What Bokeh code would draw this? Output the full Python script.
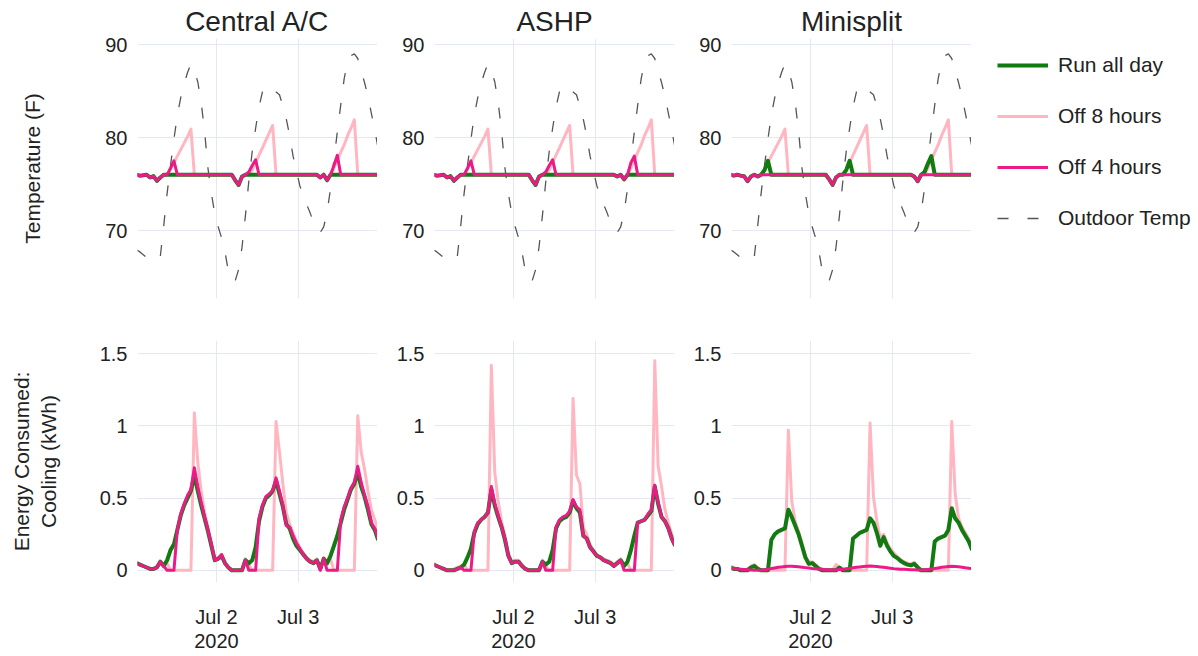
from datetime import datetime, timedelta
from bokeh.plotting import figure
from bokeh.models import (Range1d, FixedTicker, NumeralTickFormatter,
                          DatetimeTickFormatter, Legend, LegendItem)
from bokeh.layouts import column, row
from bokeh.embed import file_html
from bokeh.resources import INLINE

# ---------------- data (hourly, Jul 1 00:30 ... Jul 3 23:30) ----------------
times = [datetime(2020, 7, 1, 0, 30) + timedelta(hours=k) for k in range(72)]

systems = ["Central A/C", "ASHP", "Minisplit"]
series_names = ["Run all day", "Off 8 hours", "Off 4 hours", "Outdoor Temp"]
temp_ticks = [70, 80, 90]
kwh_ticks = [0, 0.5, 1, 1.5]
date_ticks = [datetime(2020, 7, 2), datetime(2020, 7, 3)]

outdoor_temp = [67.9, 67.7, 67.4, 67.1, 66.9, 66.8, 66.7, 67.2, 70.5, 74.0,
                77.0, 79.8, 82.4, 84.3, 85.8, 87.0, 87.9, 87.2, 86.0, 83.8,
                80.7, 76.7, 74.0, 71.8, 70.4, 69.2, 67.7, 65.6, 64.6, 64.6,
                65.8, 68.2, 71.6, 75.3, 78.5, 81.0, 83.3, 84.9, 85.6, 85.5,
                85.2, 84.9, 84.6, 83.4, 82.0, 80.2, 78.0, 76.4, 74.8, 73.8,
                72.8, 71.9, 70.9, 70.2, 69.8, 70.4, 72.0, 74.5, 77.6, 80.6,
                83.5, 86.3, 88.1, 88.8, 89.0, 88.5, 87.2, 85.9, 84.4, 82.6,
                80.8, 78.8]

# Central A/C indoor temperature
ac_temp_run = [76.0, 75.9, 75.95, 76.0, 75.7, 75.85, 75.35, 75.7, 76.0, 76.0,
               76.0, 76.0, 76.0, 76.0, 76.0, 76.0, 76.0, 76.0, 76.0, 76.0,
               76.0, 76.0, 76.0, 76.0, 76.0, 76.0, 76.0, 76.0, 76.0, 75.4,
               74.9, 75.8, 76.0, 76.0, 76.0, 76.0, 76.0, 76.0, 76.0, 76.0,
               76.0, 76.0, 76.0, 76.0, 76.0, 76.0, 76.0, 76.0, 76.0, 76.0,
               76.0, 76.0, 76.0, 76.0, 75.7, 76.0, 75.4, 76.0, 76.0, 76.0,
               76.0, 76.0, 76.0, 76.0, 76.0, 76.0, 76.0, 76.0, 76.0, 76.0,
               76.0, 76.0]
ac_temp_off8 = [76.0, 75.9, 75.95, 76.0, 75.7, 75.85, 75.35, 75.7, 76.0, 76.0,
                76.6, 77.3, 78.0, 78.7, 79.4, 80.1, 80.9, 76.0, 76.0, 76.0,
                76.0, 76.0, 76.0, 76.0, 76.0, 76.0, 76.0, 76.0, 76.0, 75.4,
                74.9, 75.8, 76.0, 76.0, 76.5, 77.3, 78.1, 78.9, 79.7, 80.5,
                81.3, 76.0, 76.0, 76.0, 76.0, 76.0, 76.0, 76.0, 76.0, 76.0,
                76.0, 76.0, 76.0, 76.0, 75.7, 76.0, 75.4, 76.0, 76.7, 77.6,
                78.4, 79.2, 80.2, 81.0, 81.9, 76.0, 76.0, 76.0, 76.0, 76.0,
                76.0, 76.0]
ac_temp_off4 = [76.0, 75.9, 75.95, 76.0, 75.7, 75.85, 75.35, 75.7, 76.0, 76.0,
                76.7, 77.5, 76.0, 76.0, 76.0, 76.0, 76.0, 76.0, 76.0, 76.0,
                76.0, 76.0, 76.0, 76.0, 76.0, 76.0, 76.0, 76.0, 76.0, 75.4,
                74.9, 75.8, 76.0, 76.3, 77.0, 77.6, 76.0, 76.0, 76.0, 76.0,
                76.0, 76.0, 76.0, 76.0, 76.0, 76.0, 76.0, 76.0, 76.0, 76.0,
                76.0, 76.0, 76.0, 76.0, 75.7, 76.0, 75.4, 76.0, 77.0, 78.1,
                76.0, 76.0, 76.0, 76.0, 76.0, 76.0, 76.0, 76.0, 76.0, 76.0,
                76.0, 76.0]

# ASHP indoor temperature
ashp_temp_run = [76.0, 75.9, 75.95, 76.0, 75.7, 75.85, 75.35, 75.7, 76.0, 76.0,
                 76.0, 76.0, 76.0, 76.0, 76.0, 76.0, 76.0, 76.0, 76.0, 76.0,
                 76.0, 76.0, 76.0, 76.0, 76.0, 76.0, 76.0, 76.0, 76.0, 75.4,
                 74.9, 75.8, 76.0, 76.0, 76.0, 76.0, 76.0, 76.0, 76.0, 76.0,
                 76.0, 76.0, 76.0, 76.0, 76.0, 76.0, 76.0, 76.0, 76.0, 76.0,
                 76.0, 76.0, 76.0, 76.0, 75.8, 76.0, 75.5, 76.0, 76.0, 76.0,
                 76.0, 76.0, 76.0, 76.0, 76.0, 76.0, 76.0, 76.0, 76.0, 76.0,
                 76.0, 76.0]
ashp_temp_off8 = [76.0, 75.9, 75.95, 76.0, 75.7, 75.85, 75.35, 75.7, 76.0, 76.0,
                  76.6, 77.3, 78.0, 78.7, 79.4, 80.1, 80.9, 76.0, 76.0, 76.0,
                  76.0, 76.0, 76.0, 76.0, 76.0, 76.0, 76.0, 76.0, 76.0, 75.4,
                  74.9, 75.8, 76.0, 76.0, 76.5, 77.3, 78.1, 78.9, 79.7, 80.5,
                  81.3, 76.0, 76.0, 76.0, 76.0, 76.0, 76.0, 76.0, 76.0, 76.0,
                  76.0, 76.0, 76.0, 76.0, 75.8, 76.0, 75.5, 76.0, 76.7, 77.6,
                  78.4, 79.2, 80.2, 81.0, 81.9, 76.0, 76.0, 76.0, 76.0, 76.0,
                  76.0, 76.0]
ashp_temp_off4 = [76.0, 75.9, 75.95, 76.0, 75.7, 75.85, 75.35, 75.7, 76.0, 76.0,
                  76.7, 77.5, 76.0, 76.0, 76.0, 76.0, 76.0, 76.0, 76.0, 76.0,
                  76.0, 76.0, 76.0, 76.0, 76.0, 76.0, 76.0, 76.0, 76.0, 75.4,
                  74.9, 75.8, 76.0, 76.3, 77.0, 77.6, 76.0, 76.0, 76.0, 76.0,
                  76.0, 76.0, 76.0, 76.0, 76.0, 76.0, 76.0, 76.0, 76.0, 76.0,
                  76.0, 76.0, 76.0, 76.0, 75.8, 76.0, 75.5, 76.0, 77.3, 78.0,
                  76.0, 76.0, 76.0, 76.0, 76.0, 76.0, 76.0, 76.0, 76.0, 76.0,
                  76.0, 76.0]

# Minisplit indoor temperature
mini_temp_run = [76.0, 75.9, 76.0, 75.9, 75.85, 75.3, 75.8, 76.0, 75.8, 76.0,
                 76.5, 77.5, 76.0, 76.0, 76.0, 76.0, 76.0, 76.0, 76.0, 76.0,
                 76.0, 76.0, 76.0, 76.0, 76.0, 76.0, 76.0, 76.0, 76.0, 75.5,
                 74.9, 75.7, 76.0, 76.0, 76.5, 77.5, 76.0, 76.0, 76.0, 76.0,
                 76.0, 76.0, 76.0, 76.0, 76.0, 76.0, 76.0, 76.0, 76.0, 76.0,
                 76.0, 76.0, 76.0, 76.0, 75.8, 75.3, 76.0, 76.3, 77.2, 78.0,
                 76.0, 76.0, 76.0, 76.0, 76.0, 76.0, 76.0, 76.0, 76.0, 76.0,
                 76.0, 76.0]
mini_temp_off8 = [76.0, 75.9, 76.0, 75.9, 75.85, 75.3, 75.8, 76.0, 75.8, 76.0,
                  76.6, 77.3, 78.0, 78.7, 79.4, 80.1, 80.9, 76.0, 76.0, 76.0,
                  76.0, 76.0, 76.0, 76.0, 76.0, 76.0, 76.0, 76.0, 76.0, 75.5,
                  74.9, 75.7, 76.0, 76.0, 76.5, 77.3, 78.1, 78.9, 79.7, 80.5,
                  81.3, 76.0, 76.0, 76.0, 76.0, 76.0, 76.0, 76.0, 76.0, 76.0,
                  76.0, 76.0, 76.0, 76.0, 75.8, 75.3, 76.0, 76.0, 76.7, 77.6,
                  78.4, 79.2, 80.2, 81.0, 81.9, 76.0, 76.0, 76.0, 76.0, 76.0,
                  76.0, 76.0]
mini_temp_off4 = [76.0, 75.9, 76.0, 75.9, 75.85, 75.3, 75.8, 76.0, 75.8, 76.0,
                  76.0, 76.0, 76.0, 76.0, 76.0, 76.0, 76.0, 76.0, 76.0, 76.0,
                  76.0, 76.0, 76.0, 76.0, 76.0, 76.0, 76.0, 76.0, 76.0, 75.5,
                  74.9, 75.7, 76.0, 76.0, 76.0, 76.0, 76.0, 76.0, 76.0, 76.0,
                  76.0, 76.0, 76.0, 76.0, 76.0, 76.0, 76.0, 76.0, 76.0, 76.0,
                  76.0, 76.0, 76.0, 76.0, 75.8, 75.3, 76.0, 76.0, 76.0, 76.0,
                  76.0, 76.0, 76.0, 76.0, 76.0, 76.0, 76.0, 76.0, 76.0, 76.0,
                  76.0, 76.0]

# Central A/C cooling energy (kWh)
ac_kwh_run = [0.05, 0.04, 0.03, 0.02, 0.01, 0.01, 0.02, 0.06, 0.03, 0.07,
              0.14, 0.18, 0.28, 0.38, 0.45, 0.50, 0.55, 0.66, 0.55, 0.45,
              0.36, 0.27, 0.17, 0.07, 0.08, 0.10, 0.05, 0.02, 0.00, 0.00,
              0.00, 0.00, 0.07, 0.05, 0.07, 0.16, 0.34, 0.44, 0.50, 0.52,
              0.55, 0.62, 0.53, 0.44, 0.32, 0.29, 0.22, 0.17, 0.14, 0.11,
              0.08, 0.06, 0.05, 0.07, 0.01, 0.08, 0.05, 0.10, 0.17, 0.24,
              0.33, 0.42, 0.49, 0.56, 0.60, 0.68, 0.58, 0.51, 0.42, 0.32,
              0.28, 0.21]
ac_kwh_off8 = [0.06, 0.04, 0.03, 0.02, 0.01, 0.01, 0.03, 0.06, 0.04, 0.05,
               0.00, 0.00, 0.00, 0.00, 0.00, 0.00, 0.00, 1.09, 0.75, 0.55,
               0.40, 0.30, 0.19, 0.08, 0.09, 0.11, 0.05, 0.02, 0.00, 0.00,
               0.00, 0.01, 0.08, 0.04, 0.00, 0.00, 0.00, 0.00, 0.00, 0.00,
               0.00, 1.03, 0.82, 0.60, 0.40, 0.32, 0.26, 0.20, 0.16, 0.12,
               0.09, 0.07, 0.06, 0.08, 0.02, 0.09, 0.04, 0.08, 0.00, 0.00,
               0.00, 0.00, 0.00, 0.00, 0.00, 1.07, 0.82, 0.70, 0.55, 0.42,
               0.35, 0.28]
ac_kwh_off4 = [0.05, 0.04, 0.03, 0.02, 0.01, 0.01, 0.02, 0.06, 0.03, 0.00,
               0.00, 0.00, 0.28, 0.39, 0.46, 0.52, 0.56, 0.71, 0.58, 0.47,
               0.37, 0.28, 0.18, 0.07, 0.08, 0.11, 0.05, 0.02, 0.00, 0.00,
               0.00, 0.00, 0.07, 0.00, 0.00, 0.00, 0.36, 0.45, 0.51, 0.53,
               0.55, 0.64, 0.55, 0.45, 0.31, 0.30, 0.24, 0.19, 0.15, 0.11,
               0.08, 0.06, 0.05, 0.07, 0.00, 0.08, 0.00, 0.00, 0.00, 0.00,
               0.35, 0.44, 0.50, 0.57, 0.61, 0.72, 0.61, 0.52, 0.44, 0.33,
               0.29, 0.22]

# ASHP cooling energy (kWh)
ashp_kwh_run = [0.04, 0.03, 0.02, 0.01, 0.00, 0.00, 0.00, 0.01, 0.02, 0.04,
                0.09, 0.15, 0.26, 0.32, 0.35, 0.37, 0.40, 0.56, 0.45, 0.37,
                0.30, 0.21, 0.10, 0.05, 0.06, 0.06, 0.03, 0.01, 0.00, 0.00,
                0.00, 0.00, 0.06, 0.04, 0.06, 0.14, 0.29, 0.34, 0.36, 0.37,
                0.40, 0.48, 0.43, 0.40, 0.24, 0.22, 0.16, 0.13, 0.10, 0.09,
                0.07, 0.06, 0.05, 0.03, 0.05, 0.07, 0.03, 0.06, 0.14, 0.24,
                0.33, 0.34, 0.35, 0.38, 0.41, 0.58, 0.46, 0.37, 0.34, 0.29,
                0.22, 0.17]
ashp_kwh_off8 = [0.05, 0.03, 0.02, 0.01, 0.00, 0.00, 0.01, 0.02, 0.03, 0.04,
                 0.00, 0.00, 0.00, 0.00, 0.00, 0.00, 0.00, 1.42, 0.68, 0.48,
                 0.34, 0.24, 0.12, 0.06, 0.07, 0.07, 0.04, 0.01, 0.00, 0.00,
                 0.00, 0.01, 0.07, 0.03, 0.00, 0.00, 0.00, 0.00, 0.00, 0.00,
                 0.00, 1.19, 0.66, 0.60, 0.30, 0.25, 0.18, 0.14, 0.11, 0.09,
                 0.08, 0.07, 0.06, 0.04, 0.06, 0.08, 0.04, 0.05, 0.00, 0.00,
                 0.00, 0.00, 0.00, 0.00, 0.00, 1.45, 0.72, 0.58, 0.42, 0.33,
                 0.25, 0.20]
ashp_kwh_off4 = [0.04, 0.03, 0.02, 0.01, 0.00, 0.00, 0.00, 0.01, 0.02, 0.00,
                 0.00, 0.00, 0.27, 0.33, 0.35, 0.37, 0.40, 0.58, 0.46, 0.38,
                 0.30, 0.22, 0.10, 0.05, 0.06, 0.06, 0.03, 0.01, 0.00, 0.00,
                 0.00, 0.00, 0.06, 0.00, 0.00, 0.00, 0.30, 0.35, 0.37, 0.38,
                 0.41, 0.49, 0.44, 0.42, 0.24, 0.22, 0.16, 0.13, 0.10, 0.09,
                 0.07, 0.06, 0.05, 0.03, 0.05, 0.07, 0.00, 0.00, 0.00, 0.00,
                 0.33, 0.34, 0.35, 0.39, 0.42, 0.59, 0.47, 0.37, 0.34, 0.29,
                 0.22, 0.17]

# Minisplit cooling energy (kWh)
mini_kwh_run = [0.02, 0.01, 0.01, 0.00, 0.00, 0.00, 0.02, 0.03, 0.01, 0.00,
                0.00, 0.00, 0.21, 0.25, 0.27, 0.28, 0.29, 0.42, 0.37, 0.31,
                0.25, 0.17, 0.09, 0.045, 0.05, 0.03, 0.01, 0.00, 0.00, 0.00,
                0.00, 0.00, 0.02, 0.00, 0.00, 0.00, 0.22, 0.24, 0.26, 0.27,
                0.28, 0.36, 0.33, 0.26, 0.17, 0.23, 0.17, 0.13, 0.10, 0.085,
                0.065, 0.05, 0.04, 0.035, 0.045, 0.02, 0.00, 0.00, 0.00, 0.00,
                0.20, 0.22, 0.23, 0.24, 0.28, 0.43, 0.36, 0.33, 0.28, 0.24,
                0.20, 0.14]
mini_kwh_off8 = [0.03, 0.02, 0.01, 0.00, 0.00, 0.01, 0.03, 0.04, 0.02, 0.00,
                 0.00, 0.00, 0.00, 0.00, 0.00, 0.00, 0.00, 0.97, 0.48, 0.34,
                 0.27, 0.19, 0.10, 0.055, 0.06, 0.04, 0.02, 0.00, 0.00, 0.00,
                 0.00, 0.04, 0.02, 0.00, 0.00, 0.00, 0.00, 0.00, 0.00, 0.00,
                 0.00, 1.02, 0.51, 0.34, 0.22, 0.25, 0.19, 0.15, 0.12, 0.095,
                 0.075, 0.06, 0.05, 0.045, 0.055, 0.03, 0.00, 0.00, 0.00, 0.00,
                 0.00, 0.00, 0.00, 0.00, 0.00, 1.03, 0.53, 0.36, 0.30, 0.26,
                 0.22, 0.16]
mini_kwh_off4 = [0.012, 0.011, 0.010, 0.008, 0.006, 0.004, 0.002, 0.001, 0.000, 0.001,
                 0.004, 0.008, 0.013, 0.017, 0.021, 0.024, 0.026, 0.028, 0.028, 0.027,
                 0.025, 0.022, 0.019, 0.016, 0.013, 0.011, 0.009, 0.007, 0.005, 0.004,
                 0.003, 0.004, 0.006, 0.008, 0.011, 0.014, 0.018, 0.021, 0.024, 0.027,
                 0.029, 0.030, 0.029, 0.027, 0.024, 0.021, 0.018, 0.015, 0.012, 0.010,
                 0.008, 0.007, 0.006, 0.005, 0.004, 0.003, 0.003, 0.004, 0.006, 0.009,
                 0.013, 0.017, 0.021, 0.024, 0.027, 0.028, 0.027, 0.025, 0.022, 0.018,
                 0.015, 0.012]

temps = [(ac_temp_run, ac_temp_off8, ac_temp_off4),
         (ashp_temp_run, ashp_temp_off8, ashp_temp_off4),
         (mini_temp_run, mini_temp_off8, mini_temp_off4)]
kwhs = [(ac_kwh_run, ac_kwh_off8, ac_kwh_off4),
        (ashp_kwh_run, ashp_kwh_off8, ashp_kwh_off4),
        (mini_kwh_run, mini_kwh_off8, mini_kwh_off4)]
for grp in temps + kwhs:
    for s in grp:
        assert len(s) == len(times), len(s)
assert len(outdoor_temp) == len(times)

# ---------------- styling ----------------
FONT = "Liberation Sans"
TEXT = "#222222"
GRID = "#E4E9F1"
GREEN = "#117A11"
PINK = "#FFB6C1"
DEEP = "#EC1A87"
DASH = "#555555"

X0 = datetime(2020, 7, 1, 0, 48)
X1 = datetime(2020, 7, 3, 23, 18)
EPOCH = datetime(1970, 1, 1)
date_tick_ms = [(d - EPOCH).total_seconds() * 1000.0 for d in date_ticks]


def base_fig(width, height, left, top, bottom, yr):
    p = figure(width=width, height=height, x_axis_type="datetime",
               x_range=Range1d(X0, X1), y_range=Range1d(*yr),
               output_backend="svg", toolbar_location=None,
               min_border_left=left, min_border_right=0,
               min_border_top=top, min_border_bottom=bottom)
    p.outline_line_color = None
    p.background_fill_color = "white"
    p.border_fill_color = "white"
    for ax in p.yaxis:
        ax.axis_line_color = None
        ax.major_tick_line_color = None
        ax.minor_tick_line_color = None
        ax.major_label_standoff = 4
        ax.major_label_text_font = FONT
        ax.major_label_text_font_size = "20px"
        ax.major_label_text_color = TEXT
        ax.axis_label_text_font = FONT
        ax.axis_label_text_font_size = "21px"
        ax.axis_label_text_font_style = "normal"
        ax.axis_label_text_color = TEXT
    for ax in p.xaxis:
        ax.axis_line_color = None
        ax.major_tick_line_color = None
        ax.minor_tick_line_color = None
        ax.ticker = FixedTicker(ticks=date_tick_ms)
        ax.formatter = DatetimeTickFormatter(days="%b %-d", context="%Y",
                                             context_which="start")
        ax.major_label_standoff = 17
        ax.major_label_text_font = FONT
        ax.major_label_text_font_size = "20px"
        ax.major_label_text_color = TEXT
        ax.major_label_text_line_height = 1.1
    p.xgrid.ticker = FixedTicker(ticks=date_tick_ms)
    p.xgrid.grid_line_color = GRID
    p.ygrid.grid_line_color = GRID
    return p


def draw(p, run, off8, off4, outdoor=None):
    rs = {}
    if outdoor is not None:
        rs["Outdoor Temp"] = p.line(times, outdoor, line_color=DASH, line_width=1.3,
                                    line_dash="11 19")
    rs["Off 8 hours"] = p.line(times, off8, line_color=PINK, line_width=3, line_join="round")
    rs["Run all day"] = p.line(times, run, line_color=GREEN, line_width=4, line_join="round")
    rs["Off 4 hours"] = p.line(times, off4, line_color=DEEP, line_width=3, line_join="round")
    return rs


lefts = [137, 57, 57]
top_figs, bot_figs = [], []
for i, name in enumerate(systems):
    w = lefts[i] + 240
    pt = base_fig(w, 319, lefts[i], 38, 21, (62.69, 90.65))
    pt.yaxis.ticker = FixedTicker(ticks=temp_ticks)
    pt.xaxis.visible = False
    pt.title.text = name
    pt.title.align = "center"
    pt.title.text_font = FONT
    pt.title.text_font_size = "28px"
    pt.title.text_font_style = "normal"
    pt.title.text_color = TEXT
    pt.title.standoff = 3
    draw(pt, *temps[i], outdoor=outdoor_temp)

    pb = base_fig(w, 335, lefts[i], 21, 56, (-0.084, 1.591))
    pb.yaxis.ticker = FixedTicker(ticks=kwh_ticks)
    pb.yaxis.formatter = NumeralTickFormatter(format="0.[0]")
    draw(pb, *kwhs[i])
    top_figs.append(pt)
    bot_figs.append(pb)

top_figs[0].yaxis.axis_label = "Temperature (F)"
top_figs[0].yaxis.axis_label_standoff = 58
bot_figs[0].yaxis.axis_label = "Energy Consumed:\nCooling (kWh)"
bot_figs[0].yaxis.axis_label_standoff = 37
bot_figs[0].yaxis.axis_label_text_line_height = 1.15

# ---------------- legend panel ----------------
# The series are drawn here too, but outside this panel's view; they only feed the legend.
lg = figure(width=224, height=319, output_backend="svg", toolbar_location=None,
            title=None, x_range=Range1d(0, 1), y_range=Range1d(0, 1), min_border=0)
lg.outline_line_color = None
lg.axis.visible = False
lg.grid.visible = False
leg_r = draw(lg, *temps[2], outdoor=outdoor_temp)
items = [LegendItem(label=n, renderers=[leg_r[n]]) for n in series_names]
legend = Legend(items=items, location=(26, 68), padding=0, margin=0,
                spacing=27, glyph_width=51, glyph_height=20, label_height=20,
                label_standoff=10, label_text_font=FONT,
                label_text_font_size="21px", label_text_color=TEXT,
                border_line_color=None, background_fill_alpha=0)
lg.add_layout(legend)

layout = column(row(*top_figs, lg), row(*bot_figs))

with open("out.html", "w") as f:
    f.write(file_html(layout, INLINE))
